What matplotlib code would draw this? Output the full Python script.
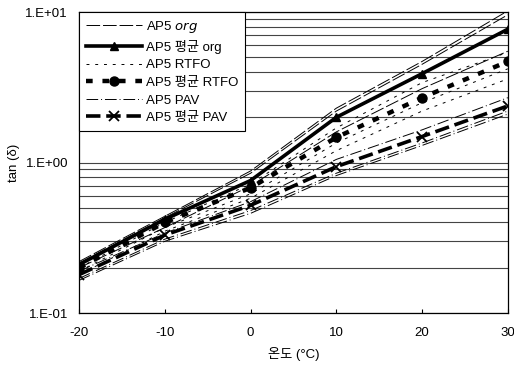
import matplotlib
matplotlib.use("Agg")
import matplotlib.pyplot as plt
from matplotlib.ticker import FixedLocator, LogLocator, NullFormatter, FuncFormatter

plt.rcParams["font.family"] = ["Liberation Sans", "Noto Sans CJK KR", "DejaVu Sans"]

temps = [-20, -10, 0, 10, 20, 30]

# individual samples
org_samples = [
    [0.22, 0.44, 0.88, 2.30, 4.70, 10.2],
    [0.215, 0.43, 0.85, 2.20, 4.50, 9.6],
    [0.20, 0.37, 0.70, 1.60, 3.10, 5.5],
]
rtfo_samples = [
    [0.20, 0.40, 0.72, 1.70, 3.40, 5.4],
    [0.19, 0.37, 0.62, 1.35, 2.50, 4.2],
    [0.18, 0.35, 0.58, 1.20, 2.20, 3.6],
]
pav_samples = [
    [0.19, 0.34, 0.55, 1.05, 1.65, 2.7],
    [0.17, 0.31, 0.48, 0.85, 1.35, 2.2],
    [0.165, 0.30, 0.46, 0.82, 1.30, 2.1],
]

# averages
org_mean = [0.21, 0.42, 0.76, 2.0, 3.9, 7.7]
rtfo_mean = [0.20, 0.40, 0.68, 1.47, 2.7, 4.7]
pav_mean = [0.18, 0.33, 0.52, 0.94, 1.49, 2.38]

fig = plt.figure(figsize=(5.14, 3.67), dpi=100)
ax = fig.add_axes([0.154, 0.147, 0.834, 0.820])

for i, ys in enumerate(org_samples):
    ax.plot(temps, ys, color="black", linewidth=0.7, linestyle=(0, (14, 3)),
            label="AP5 $\\it{org}$" if i == 0 else None)
ax.plot(temps, org_mean, color="black", linewidth=2.6, marker="^", markersize=6,
        label="AP5 평균 org")

for i, ys in enumerate(rtfo_samples):
    ax.plot(temps, ys, color="black", linewidth=0.7, linestyle=(0, (3, 6)),
            label="AP5 RTFO" if i == 0 else None)
ax.plot(temps, rtfo_mean, color="black", linewidth=3.2, linestyle=(0, (1.5, 2.2)),
        marker="o", markersize=6.5, label="AP5 평균 RTFO")

for i, ys in enumerate(pav_samples):
    ax.plot(temps, ys, color="black", linewidth=0.7, linestyle=(0, (12, 3, 1, 3)),
            label="AP5 PAV" if i == 0 else None)
ax.plot(temps, pav_mean, color="black", linewidth=2.6, linestyle=(0, (4, 1.6)),
        marker="x", markersize=6.5, markeredgewidth=1.3, label="AP5 평균 PAV")

ax.set_yscale("log")
ax.set_ylim(0.1, 10)
ax.set_xlim(-20, 30)
ax.xaxis.set_major_locator(FixedLocator(temps))
ax.xaxis.set_major_formatter(FuncFormatter(lambda v, p: f"{int(v)}"))
ax.yaxis.set_major_locator(FixedLocator([0.1, 1, 10]))
ax.yaxis.set_major_formatter(
    FuncFormatter(lambda v, p: {0.1: "1.E-01", 1: "1.E+00", 10: "1.E+01"}.get(round(v, 3), "")))
ax.yaxis.set_minor_locator(LogLocator(base=10, subs=range(2, 10)))
ax.yaxis.set_minor_formatter(NullFormatter())
ax.tick_params(axis="y", which="both", length=0, labelsize=9.5, pad=8)
ax.tick_params(axis="x", length=3, direction="in", labelsize=9.5, pad=10)

ax.grid(True, axis="y", which="both", color="#444444", linewidth=0.8)
ax.set_axisbelow(True)
for sp in ax.spines.values():
    sp.set_linewidth(0.9)

ax.set_xlabel("온도 (°C)", fontsize=9.5, labelpad=6)
ax.set_ylabel("tan (δ)", fontsize=9.5, labelpad=4)

leg = ax.legend(loc="upper left", bbox_to_anchor=(0.0, 1.0), borderaxespad=0,
                fontsize=9.5, handlelength=4.3, handletextpad=0.3,
                labelspacing=0.4, fancybox=False, framealpha=1,
                edgecolor="black", borderpad=0.5)
leg.get_frame().set_linewidth(0.8)

fig.savefig("out.png", dpi=100)
